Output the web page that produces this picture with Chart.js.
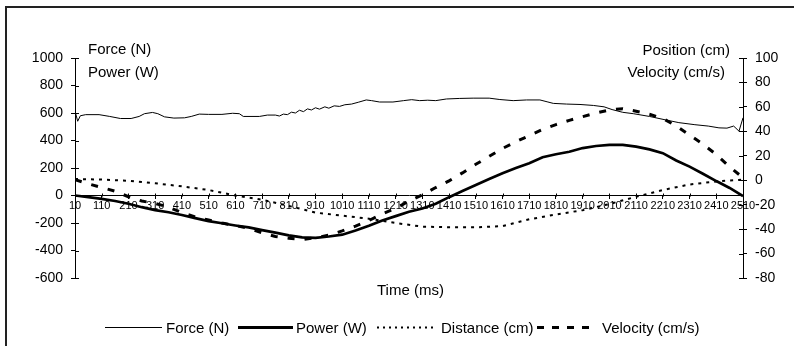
<!DOCTYPE html>
<html><head><meta charset="utf-8">
<script src="https://cdn.jsdelivr.net/npm/chart.js@4.4.0/dist/chart.umd.min.js"></script>
<style>
html,body{margin:0;padding:0;background:#fff;overflow:hidden;}
#wrap{position:relative;width:794px;height:346px;overflow:hidden;font-family:"Liberation Sans",Arial,sans-serif;color:#000;}
#frame{position:absolute;left:5px;top:6px;width:900px;height:500px;border-left:2px solid #222;border-top:2px solid #222;}
canvas{position:absolute;left:0;top:0;}
.t{position:absolute;font-size:15px;line-height:17px;white-space:nowrap;}
svg{position:absolute;left:0;top:0;}
</style></head>
<body><div id="wrap"><div id="frame"></div><canvas id="c" width="794" height="346"></canvas>
<div class="t" style="left:88px;top:40px">Force (N)</div>
<div class="t" style="left:88px;top:63px">Power (W)</div>
<div class="t" style="right:64px;top:41px;text-align:right">Position (cm)</div>
<div class="t" style="right:69px;top:63px;text-align:right">Velocity (cm/s)</div>
<div class="t" style="left:377px;top:281px">Time (ms)</div>
<svg width="794" height="346">
<line x1="105" y1="327.5" x2="162" y2="327.5" stroke="#000" stroke-width="1"/>
<line x1="238" y1="327.5" x2="293" y2="327.5" stroke="#000" stroke-width="3"/>
<line x1="377" y1="327.5" x2="437" y2="327.5" stroke="#000" stroke-width="2" stroke-dasharray="2,4"/>
<line x1="537" y1="327.5" x2="597" y2="327.5" stroke="#000" stroke-width="3" stroke-dasharray="7,8"/>
</svg>
<div class="t" style="left:166px;top:319px">Force (N)</div>
<div class="t" style="left:296px;top:319px">Power (W)</div>
<div class="t" style="left:441px;top:319px">Distance (cm)</div>
<div class="t" style="left:602px;top:319px">Velocity (cm/s)</div>
</div>
<script>
// ---- data ----
const xTickLabels = [10,110,210,310,410,510,610,710,810,910,1010,1110,1210,1310,1410,1510,1610,1710,1810,1910,2010,2110,2210,2310,2410,2510];

const forceTime  = [10,20,30,50,100,140,180,220,250,270,300,320,345,380,420,445,475,510,560,600,625,640,700,730,760,775,790,805,820,835,850,865,880,895,910,925,945,960,980,1000,1020,1045,1070,1100,1120,1150,1200,1240,1270,1300,1330,1360,1400,1450,1500,1560,1600,1650,1700,1750,1780,1800,1850,1900,1950,1990,2020,2060,2100,2160,2220,2270,2330,2380,2420,2450,2475,2495,2510];
const forceValue = [615,540,580,588,588,575,560,560,575,595,604,595,572,563,565,575,592,590,590,598,595,575,575,585,585,578,592,588,606,600,620,610,630,622,638,628,645,635,652,648,660,665,678,695,690,680,680,690,697,690,693,690,702,706,708,708,698,690,695,695,680,670,665,662,655,645,625,605,595,575,550,530,515,505,492,490,505,468,565];

const powerTime  = [10,60,110,160,210,260,310,360,410,460,510,560,610,660,710,760,810,860,910,960,1010,1060,1110,1160,1210,1260,1310,1360,1410,1460,1510,1560,1610,1660,1710,1760,1810,1860,1910,1960,2010,2060,2110,2160,2210,2260,2310,2360,2410,2460,2510];
const powerValue = [0,-12,-25,-40,-60,-85,-106,-122,-142,-165,-186,-202,-218,-232,-252,-270,-290,-305,-308,-298,-285,-255,-220,-182,-150,-118,-95,-60,-12,32,77,120,162,200,235,278,300,318,345,360,368,368,355,335,308,255,210,158,105,55,-5];

const distTime  = [10,110,210,310,410,510,610,710,810,910,1010,1110,1210,1310,1410,1510,1610,1710,1810,1910,2010,2110,2210,2310,2410,2510];
const distValue = [1,0.5,-0.5,-2.5,-5,-8,-12.5,-16,-21,-26.5,-29,-31.5,-35,-38,-38.5,-38.5,-37.5,-32,-28,-24.5,-19.5,-13.5,-8,-3.5,-1,0.5];

const velTime  = [10,60,110,160,210,260,310,360,410,460,510,560,610,660,710,760,810,860,910,960,1010,1060,1110,1160,1210,1260,1310,1360,1410,1460,1510,1560,1610,1660,1710,1760,1810,1860,1910,1960,2010,2060,2110,2160,2210,2260,2310,2360,2410,2460,2510];
const velValue = [0.5,-3,-6,-9,-13.5,-17,-19,-22,-26.5,-30,-32.5,-35,-37,-39.5,-43,-46,-47.5,-48.5,-47,-45,-41.5,-37.5,-33,-27.5,-23,-17,-12,-6,-0.5,6,13,19.5,26,31.5,36.5,41.5,45.5,49,52,55,57.5,58.5,56.5,54,50.5,44.5,37,29.5,21,11,2];

const pts = (ts, vs) => ts.map((t, i) => ({x: t, y: vs[i]}));

const crossTicks = {
  id: 'crossTicks',
  beforeDatasetsDraw(chart) {
    const ctx = chart.ctx, a = chart.chartArea;
    const y = chart.scales.y, y1 = chart.scales.y1, x = chart.scales.x;
    ctx.save();
    ctx.strokeStyle = '#000'; ctx.lineWidth = 1;
    ctx.beginPath();
    y.ticks.forEach(t => { const p = Math.round(y.getPixelForValue(t.value)) + 0.5; ctx.moveTo(a.left, p); ctx.lineTo(a.left + 4, p); });
    y1.ticks.forEach(t => { const p = Math.round(y1.getPixelForValue(t.value)) + 0.5; ctx.moveTo(a.right, p); ctx.lineTo(a.right - 4, p); });
    const y0 = Math.round(y.getPixelForValue(0)) + 0.5;
    x.ticks.forEach(t => { const p = Math.round(x.getPixelForValue(t.value)) + 0.5; ctx.moveTo(p, y0); ctx.lineTo(p, y0 - 3); });
    ctx.stroke();
    ctx.restore();
  }
};

const FONT = '"Liberation Sans", Arial, sans-serif';

new Chart(document.getElementById('c'), {
  type: 'line',
  data: {
    datasets: [
      {label: 'Force (N)', data: pts(forceTime, forceValue), yAxisID: 'y', borderColor: '#000', borderWidth: 1, pointRadius: 0, tension: 0},
      {label: 'Power (W)', data: pts(powerTime, powerValue), yAxisID: 'y', borderColor: '#000', borderWidth: 2.7, pointRadius: 0, tension: 0},
      {label: 'Distance (cm)', data: pts(distTime, distValue), yAxisID: 'y1', borderColor: '#000', borderWidth: 2, borderDash: [3, 5], pointRadius: 0, tension: 0},
      {label: 'Velocity (cm/s)', data: pts(velTime, velValue), yAxisID: 'y1', borderColor: '#000', borderWidth: 3, borderDash: [7, 10], pointRadius: 0, tension: 0}
    ]
  },
  options: {
    responsive: false,
    animation: false,
    devicePixelRatio: 1,
    layout: {padding: {left: 0, right: 0, top: 58, bottom: 68}},
    plugins: {legend: {display: false}, tooltip: {enabled: false}},
    scales: {
      x: {
        type: 'linear', min: 10, max: 2510,
        position: {y: 0},
        afterBuildTicks: s => { s.ticks = xTickLabels.map(v => ({value: v})); },
        ticks: {autoSkip: false, maxRotation: 0, minRotation: 0, padding: 1, color: '#000', font: {family: FONT, size: 11}, callback: v => String(v)},
        grid: {drawOnChartArea: false, tickLength: 3, color: '#000'},
        border: {color: '#000', width: 1}
      },
      y: {
        position: 'left', min: -600, max: 1000,
        afterFit: s => { s.width = 75; },
        ticks: {stepSize: 200, padding: 8, color: '#000', font: {family: FONT, size: 14}, callback: v => String(v)},
        grid: {drawOnChartArea: false, tickLength: 4, color: '#000'},
        border: {color: '#000', width: 1}
      },
      y1: {
        position: 'right', min: -80, max: 100,
        afterFit: s => { s.width = 51; },
        ticks: {stepSize: 20, padding: 8, color: '#000', font: {family: FONT, size: 14}, callback: v => String(v)},
        grid: {drawOnChartArea: false, tickLength: 4, color: '#000'},
        border: {color: '#000', width: 1}
      }
    }
  },
  plugins: [crossTicks]
});
</script>
</body></html>
